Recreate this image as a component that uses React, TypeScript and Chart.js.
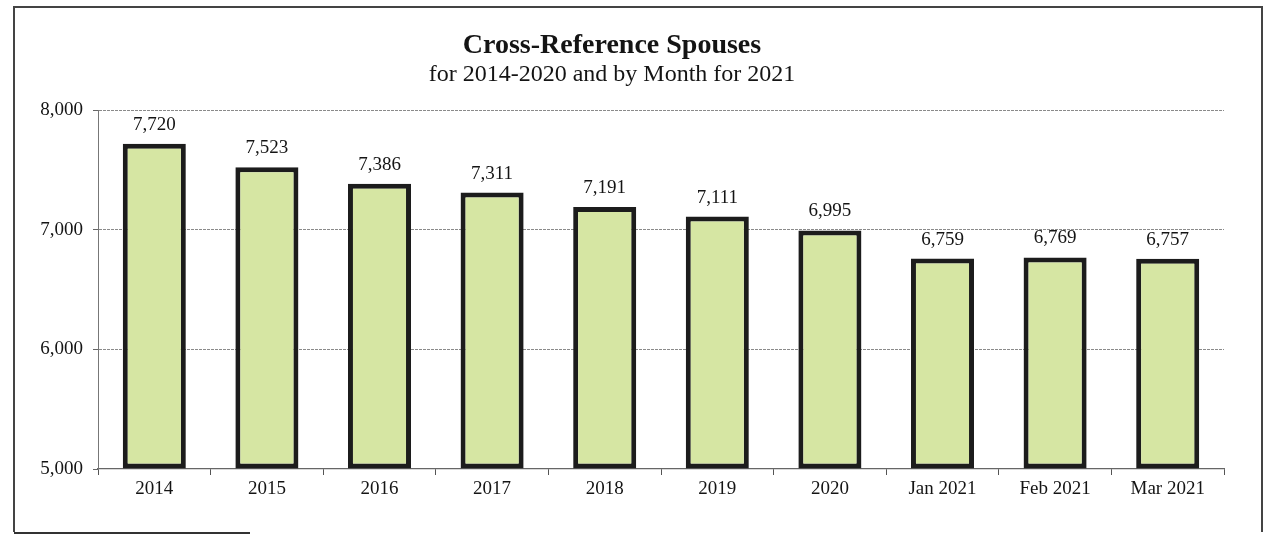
import React, { useEffect, useRef } from "react";
import { Chart, registerables } from "chart.js";

Chart.register(...registerables);

const categories = ["2014", "2015", "2016", "2017", "2018", "2019", "2020", "Jan 2021", "Feb 2021", "Mar 2021"];
const spouses = [7720, 7523, 7386, 7311, 7191, 7111, 6995, 6759, 6769, 6757];
const yMin = 5000;
const yMax = 8000;
const yStep = 1000;
const titleText = "Cross-Reference Spouses";
const subtitleText = "for 2014-2020 and by Month for 2021";

const FONT = "'Liberation Serif', 'Times New Roman', serif";

const valueLabels = {
  id: "valueLabels",
  afterDatasetsDraw(chart: any) {
    const ctx = chart.ctx;
    const meta = chart.getDatasetMeta(0);
    ctx.save();
    ctx.font = `19px ${FONT}`;
    ctx.fillStyle = "#141414";
    ctx.textAlign = "center";
    ctx.textBaseline = "middle";
    meta.data.forEach((bar: any, i: number) => {
      const v = chart.data.datasets[0].data[i] as number;
      ctx.fillText(v.toLocaleString("en-US"), bar.x, bar.y - 19);
    });
    ctx.restore();
  },
};

export default function App() {
  const ref = useRef<HTMLCanvasElement | null>(null);
  useEffect(() => {
    document.body.style.margin = "0";
    const canvas = ref.current;
    if (!canvas) return;
    const chart = new Chart(canvas, {
      type: "bar",
      data: {
        labels: categories,
        datasets: [
          {
            data: spouses,
            base: yMin,
            backgroundColor: "#d6e6a3",
            borderColor: "#1c1c1c",
            borderWidth: 5,
            borderSkipped: false,
            barPercentage: 0.56,
            categoryPercentage: 1,
            clip: 4,
          },
        ],
      },
      options: {
        responsive: false,
        animation: false,
        devicePixelRatio: 1,
        layout: { padding: { left: 0, right: 43, top: 0, bottom: 0 } },
        plugins: {
          legend: { display: false },
          tooltip: { enabled: false },
          title: {
            display: true,
            text: titleText,
            color: "#141414",
            font: { family: FONT, size: 28, weight: "bold", lineHeight: 1.1 },
            padding: { top: 30, bottom: 0 },
          },
          subtitle: {
            display: true,
            text: subtitleText,
            color: "#141414",
            font: { family: FONT, size: 24, lineHeight: 1.1 },
            padding: { top: 1, bottom: 22 },
          },
        },
        scales: {
          x: {
            grid: {
              display: true,
              drawOnChartArea: false,
              drawTicks: true,
              tickLength: 6,
              color: "#555",
              lineWidth: 1,
              offset: true,
            },
            border: { display: true, color: "#666", width: 1.2 },
            ticks: {
              color: "#141414",
              font: { family: FONT, size: 19 },
              padding: 3,
              maxRotation: 0,
              autoSkip: false,
            },
            afterFit(scale: any) {
              scale.height = 67;
            },
          },
          y: {
            min: yMin,
            max: yMax,
            grid: {
              color: (c: any) => (c.tick && c.tick.value === yMin ? "rgba(0,0,0,0)" : "#8a8a8a"),
              lineWidth: 1,
              drawTicks: true,
              tickLength: 5,
              tickColor: "#666",
              tickBorderDash: [],
            },
            border: { display: true, color: "#777", width: 1, dash: [3, 1] },
            ticks: {
              stepSize: yStep,
              color: "#141414",
              font: { family: FONT, size: 19 },
              padding: 10,
              callback: (v: any) => Number(v).toLocaleString("en-US"),
            },
            afterFit(scale: any) {
              scale.width = 98;
            },
          },
        },
      },
      plugins: [valueLabels],
    });
    return () => chart.destroy();
  }, []);

  return (
    <div style={{ position: "fixed", left: 0, top: 0, width: 1267, height: 536, background: "#fff", overflow: "hidden" }}>
      <div
        style={{
          position: "absolute",
          left: 13,
          top: 6,
          width: 1250,
          height: 526,
          borderLeft: "2px solid #444",
          borderTop: "2px solid #444",
          borderRight: "2px solid #444",
          boxSizing: "border-box",
        }}
      />
      <div style={{ position: "absolute", left: 14, top: 532, width: 236, height: 2, background: "#333" }} />
      <canvas ref={ref} width={1267} height={536} style={{ position: "absolute", left: 0, top: 0 }} />
    </div>
  );
}
